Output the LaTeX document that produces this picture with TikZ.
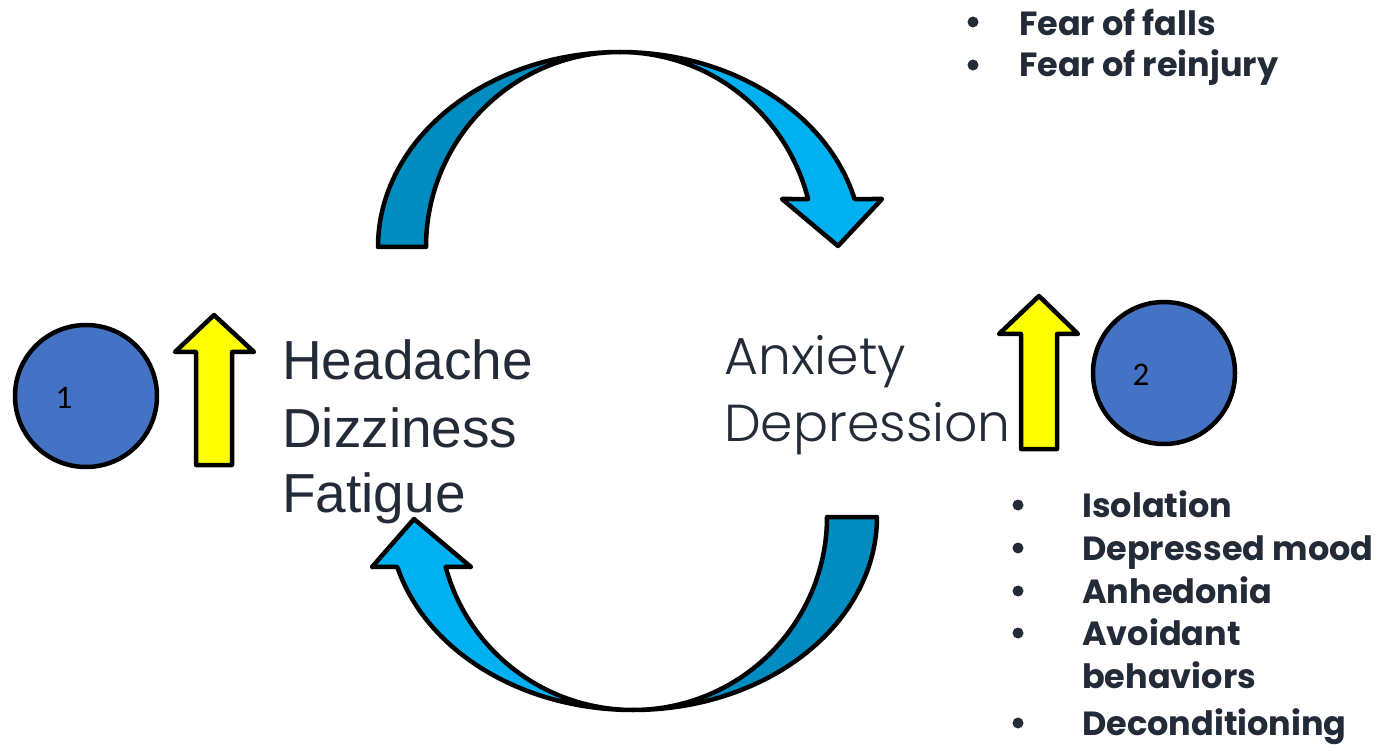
\documentclass[tikz,border=0pt]{standalone}
\usepackage{fontspec}
\setmainfont{Liberation Sans}
\IfFontExistsTF{Poppins Light}
  {\newfontfamily\gothic{Poppins Light}}
  {\newfontfamily\gothic{Poppins}}
\newfontfamily\gothicbold{Poppins}[UprightFont=* Bold]
\newfontfamily\digitfont{Carlito}
\definecolor{inkblue}{HTML}{232B38}
\definecolor{bandlight}{HTML}{00B0F0}
\definecolor{banddark}{HTML}{008CC0}
\definecolor{discblue}{HTML}{4472C4}
\definecolor{upyellow}{HTML}{FFFF00}
\begin{document}
\begin{tikzpicture}[x=1pt,y=-1pt,
  outline/.style={draw=black,line width=4.5pt,line join=round},
  disc/.style={circle,outline,fill=discblue,minimum size=142pt,inner sep=0pt},
  digit/.style={font=\digitfont\fontsize{33}{36}\selectfont,text=black,inner sep=0pt},
  symptom/.style={font=\fontsize{55}{60}\selectfont,text=inkblue,anchor=base west,inner sep=0pt},
  mood/.style={font=\gothic\fontsize{52}{58}\selectfont,text=inkblue,anchor=base west,inner sep=0pt},
  item/.style={font=\gothicbold\fontsize{33.5}{38}\selectfont,text=inkblue,anchor=base west,inner sep=0pt},
  dot/.style={circle,fill=inkblue,minimum size=11pt,inner sep=0pt}]
\useasboundingbox (0,0) rectangle (1385,751);

% symptom column
\node[symptom] (s1) at (282,380) {Headache};
\node[symptom] (s2) at (282,447) {Dizziness};
\node[symptom] (s3) at (282,512) {Fatigue};

% mood column
\node[mood] (m1) at (724,375) {Anxiety};
\node[mood] (m2) at (724,442) {Depression};

% upper curved arrow: back band, then front band with head
\filldraw[outline,fill=banddark]
  plot[variable=\t,domain=180:90,samples=40,smooth] ({620+242*cos(\t)},{247-195*sin(\t)})
  -- plot[variable=\t,domain=90:180,samples=40,smooth] ({620+194*cos(\t)},{247-195*sin(\t)})
  -- cycle;
\filldraw[outline,fill=bandlight]
  plot[variable=\t,domain=90:14.25,samples=40,smooth] ({620+242*cos(\t)},{247-195*sin(\t)})
  -- (882,199) coordinate (tr) -- (838,246) coordinate (ttip) -- (782,199) coordinate (tl)
  -- plot[variable=\t,domain=14.25:90,samples=40,smooth] ({620+194*cos(\t)},{247-195*sin(\t)})
  -- cycle;

% lower curved arrow
\filldraw[outline,fill=banddark]
  plot[variable=\t,domain=0:90,samples=40,smooth] ({633+244*cos(\t)},{517+193*sin(\t)})
  -- plot[variable=\t,domain=90:0,samples=40,smooth] ({633+194*cos(\t)},{517+193*sin(\t)})
  -- cycle;
\filldraw[outline,fill=bandlight]
  plot[variable=\t,domain=90:165,samples=40,smooth] ({633+244*cos(\t)},{517+193*sin(\t)})
  -- (372,567) coordinate (bl) -- (414,519) coordinate (btip) -- (471,567) coordinate (br)
  -- plot[variable=\t,domain=165:90,samples=40,smooth] ({633+194*cos(\t)},{517+193*sin(\t)})
  -- cycle;

% discs with their numbers
\node[disc] (c1) at (86,396) {};
\node[digit] (n1) at (64,398) {1};
\node[disc] (c2) at (1164,373) {};
\node[digit] (n2) at (1141,375) {2};

% yellow up arrows
\filldraw[outline,fill=upyellow]
  (196,465) -- (196,352) -- (175,352) -- (214,315) -- (254,352) -- (232,352) -- (232,465) -- cycle;
\filldraw[outline,fill=upyellow]
  (1021,449) -- (1021,334) -- (999,334) -- (1039,296) -- (1078,334) -- (1057,334) -- (1057,449) -- cycle;

% upper bullet list
\node[dot] (d1) at (973,22) {};
\node[item] (f1) at (1019,36) {Fear of falls};
\node[dot] (d2) at (973,65) {};
\node[item] (f2) at (1019,77) {Fear of reinjury};

% lower bullet list
\node[dot] (e1) at (1018,505) {};
\node[item] (g1) at (1082,517) {Isolation};
\node[dot] (e2) at (1018,548) {};
\node[item] (g2) at (1082,560) {Depressed mood};
\node[dot] (e3) at (1018,591) {};
\node[item] (g3) at (1082,603) {Anhedonia};
\node[dot] (e4) at (1018,633) {};
\node[item] (g4) at (1082,645) {Avoidant};
\node[item] (g5) at (1082,688) {behaviors};
\node[dot] (e5) at (1018,723) {};
\node[item] (g6) at (1082,735) {Deconditioning};
\end{tikzpicture}
\end{document}
